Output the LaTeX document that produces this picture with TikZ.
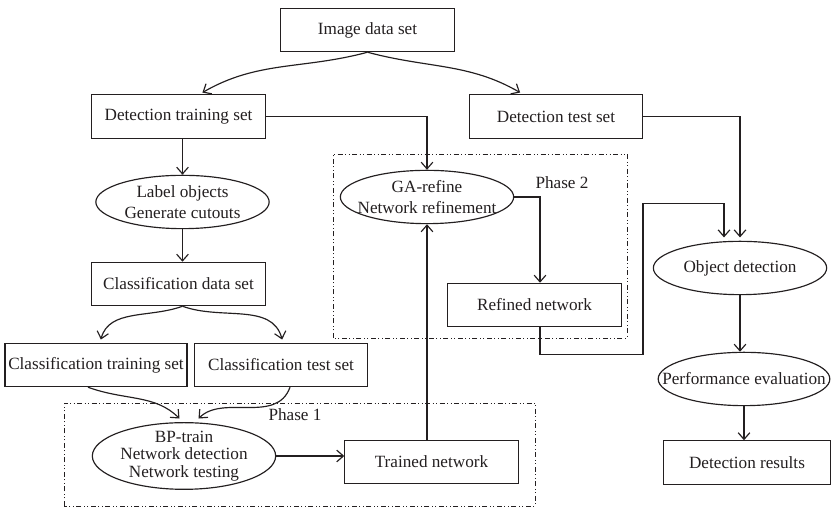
\documentclass[tikz,border=0pt]{standalone}
\usepackage{fontspec}
\setmainfont{Liberation Serif}
\usetikzlibrary{arrows.meta,calc,shapes.geometric}
\definecolor{FlowInk}{HTML}{231F20}

\begin{document}
\begin{tikzpicture}[x=0.6pt,y=0.6pt,>={Straight Barb[length=4pt,width=7pt]},FlowInk,
  font=\fontsize{10.3}{12.6}\selectfont,
  box/.style={draw,line width=0.7pt,minimum width=104pt,minimum height=26pt,inner xsep=2pt},
  oval/.style={draw,line width=0.7pt,ellipse,align=center,inner xsep=-14pt,inner ysep=-3pt,
    minimum width=104pt,minimum height=32pt},
  link/.style={line width=0.7pt,->},
  phasebox/.style={line width=0.5pt,dash pattern=on 3pt off 1.5pt on 0.6pt off 1.5pt on 0.6pt off 1.5pt}]
  \useasboundingbox (0,0) rectangle (831,508);
  % phase frames
  \draw[phasebox] (64,2) rectangle (535,105);
  \draw[phasebox] (333,170) rectangle (627,354);
  \node (ph1) at (295,93) {Phase 1};
  \node (ph2) at (562,325) {Phase 2};
  % left column
  \node[box] (img) at (367.5,478) {Image data set};
  \node[box] (dts) at (178.5,391.5) {Detection training set};
  \node[box] (dtest) at (556,391.5) {Detection test set};
  \node[oval] (lab) at (182.5,306) {Label objects\\Generate cutouts};
  \node[box] (cds) at (178.5,224) {Classification data set};
  \node[box,minimum width=0pt] (ctr) at (96,143) {Classification training set};
  \node[box] (cte) at (281,143) {Classification test set};
  \node[oval,minimum width=110pt,minimum height=40pt,font=\fontsize{10.3}{10.4}\selectfont]
    (bp) at (184,52) {BP-train\\Network detection\\Network testing};
  \node[box] (tn) at (431.5,46) {Trained network};
  % phase 2 and right column
  \node[oval] (ga) at (427,311) {GA-refine\\Network refinement};
  \node[box] (rn) at (534.5,203) {Refined network};
  \node[oval] (od) at (740,240) {Object detection};
  \node[oval,minimum width=103pt] (pe) at (744,129) {Performance evaluation};
  \node[box,minimum width=100pt] (dr) at (747,45.5) {Detection results};
  % connectors
  \draw[link,shorten >=2pt] (img.south) to[out=195,in=30] ($(dts.north)+(21,0)$);
  \draw[link,shorten >=2pt] (img.south) to[out=-15,in=150] ($(dtest.north)+(-33,0)$);
  \draw[link] (lab.north |- dts.south) -- (lab.north);
  \draw[link] (lab.south) -- (lab.south |- cds.north);
  \draw[link,shorten >=2pt] ($(cds.south)+(4,0)$) to[out=200,in=75] ($(ctr.north)+(4,0)$);
  \draw[link,shorten >=2pt] ($(cds.south)+(4,0)$) to[out=-20,in=105] ($(cte.north)+(2,0)$);
  \draw[link,shorten >=3pt] ($(ctr.south)+(-8,0)$) to[out=-20,in=135] ($(bp.north)+(-1,0)$);
  \draw[link,shorten >=3pt] ($(cte.south)+(9,0)$) to[out=-110,in=45] ($(bp.north)+(11,0)$);
  \draw[link] (bp.east) -- (bp.east -| tn.west);
  \draw[link] (ga.south |- tn.north) -- (ga.south);
  \draw[link] (dts.east) -| (ga.north);
  \draw[link] (ga.east) -| ($(rn.north)+(5.5,0)$);
  \draw[link,shorten >=2pt] ($(rn.south)+(5.5,0)$) -- ++(0,-27) -- ++(103,0) -- ++(0,151)
    -| ($(od.north)+(-16,0)$);
  \draw[link,shorten >=2pt] (dtest.east) -| (od.north);
  \draw[link] (od.south) -- (od.south |- pe.north);
  \draw[link] (pe.south) -- (pe.south |- dr.north);
\end{tikzpicture}
\end{document}
